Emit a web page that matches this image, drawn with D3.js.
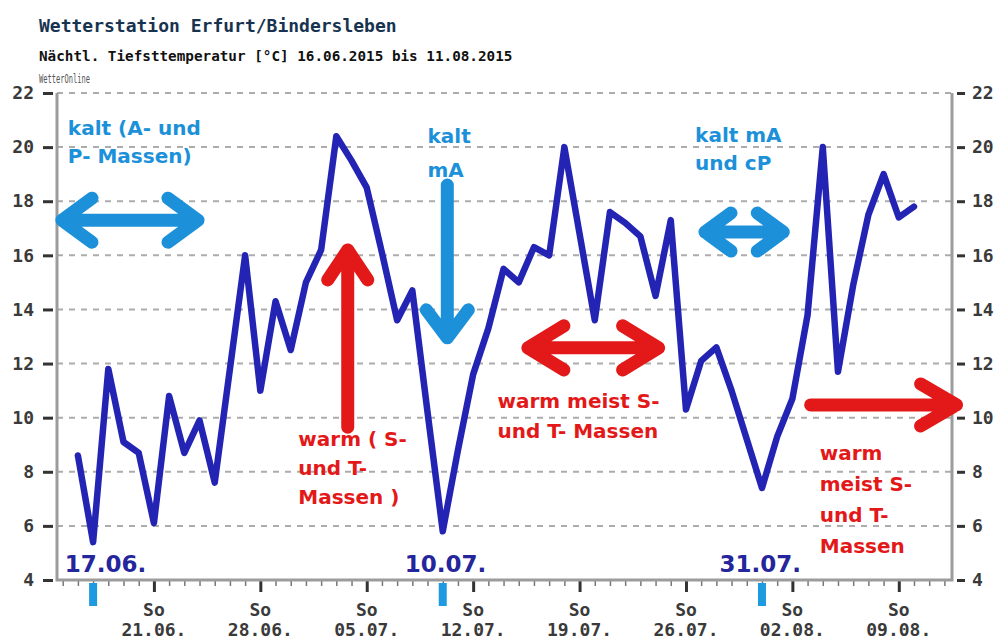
<!DOCTYPE html>
<html>
<head>
<meta charset="utf-8">
<script src="https://cdn.jsdelivr.net/npm/d3@7/dist/d3.min.js"></script>
<style>
body{margin:0;background:#fff;}
</style>
</head>
<body>
<div id="chart"></div>
<script>
// nightly minimum temperature, one value per day starting at startDay
var startDay = "16.06.2015";
var temps = [
  8.6, 5.4, 11.8, 9.1, 8.7, 6.1, 10.8, 8.7, 9.9, 7.6, 11.8, 16.0, 11.0, 14.3, 12.5,
  15.0, 16.2, 20.4, 19.5, 18.5, 16.1, 13.6, 14.7, 10.2, 5.8, 8.8, 11.6, 13.3, 15.5, 15.0,
  16.3, 16.0, 20.0, 16.8, 13.6, 17.6, 17.2, 16.7, 14.5, 17.3, 10.3, 12.1, 12.6, 11.0, 9.2, 7.4,
  9.3, 10.7, 13.8, 20.0, 11.7, 14.9, 17.5, 19.0, 17.4, 17.8
];
var yTicks = [4, 6, 8, 10, 12, 14, 16, 18, 20, 22];
var markDays = ["17.06.2015", "10.07.2015", "31.07.2015"];
var markLabels = ["17.06.", "10.07.", "31.07."];

var title = "Wetterstation Erfurt/Bindersleben";
var subtitle = "Nächtl. Tiefsttemperatur [°C] 16.06.2015 bis 11.08.2015";
var source = "WetterOnline";

var
width = 1000,
height = 639,
pLeft = 57, pRight = 952,
pTop = 93, pBottom = 580,

lineBlue = "#2424b4",
lightBlue = "#1c91d9",
red = "#e31919",
darkBlue = "#25259c"
;

var parse = d3.timeParse("%d.%m.%Y");
var t0 = parse(startDay);
var points = temps.map(function(v, i){ return {date: d3.timeDay.offset(t0, i), value: v}; });

var x = d3.scaleTime()
  .domain([new Date(2015, 5, 14, 15), new Date(2015, 7, 12, 12)])
  .range([pLeft, pRight]);
var y = d3.scaleLinear().domain([4, 22]).range([pBottom, pTop]);

// position given as day offset from startDay and temperature
function at(day, temp){
  return [x(new Date(t0.getTime() + day * 864e5)), y(temp)];
}

var svg = d3.select('#chart').append('svg').attr('width', width).attr('height', height)
  .style('background', '#fff');

// titles
svg.append('text').attr('x', 39).attr('y', 32).text(title)
  .style('font-family', 'DejaVu Sans Mono').style('font-size', '18px')
  .style('fill', '#17334f').style('font-weight', 'bold');
svg.append('text').attr('x', 39).attr('y', 61).text(subtitle)
  .style('font-family', 'DejaVu Sans Mono').style('font-size', '14.3px')
  .style('font-weight', 'bold').style('fill', '#111');
svg.append('text').attr('x', 39).attr('y', 83).text(source)
  .attr('textLength', 51).attr('lengthAdjust', 'spacingAndGlyphs')
  .style('font-family', 'DejaVu Sans Mono').style('font-size', '12px').style('fill', '#555');

// dashed grid
svg.append('g').selectAll('line')
  .data(yTicks.filter(function(t){ return t > 4; }))
  .enter().append('line')
  .attr('x1', pLeft).attr('x2', pRight)
  .attr('y1', function(t){ return y(t); }).attr('y2', function(t){ return y(t); })
  .style('stroke', '#acacac').style('stroke-width', 2).style('stroke-dasharray', '6,6');

// y axes
var tickFont = function(sel){
  sel.selectAll('text').style('font-family', 'DejaVu Sans Mono').style('font-size', '18px')
    .style('font-weight', 'bold').style('fill', '#3a3a3a');
  sel.selectAll('line').style('stroke', '#333').style('stroke-width', 3);
  sel.select('.domain').remove();
};
svg.append('g').attr('transform', 'translate(' + (pLeft - 4) + ',0)')
  .call(d3.axisLeft(y).tickValues(yTicks).tickSize(10).tickPadding(9).tickFormat(d3.format('d')))
  .call(tickFont);
svg.append('g').attr('transform', 'translate(' + (pRight + 5) + ',0)')
  .call(d3.axisRight(y).tickValues(yTicks).tickSize(8).tickPadding(7).tickFormat(d3.format('d')))
  .call(tickFont);

// x axis ticks: days minor, sundays major
var days = d3.timeDay.range(x.domain()[0], x.domain()[1]);
var sundays = d3.timeWeek.range(x.domain()[0], x.domain()[1]);
svg.append('g').attr('transform', 'translate(0,' + pBottom + ')')
  .call(d3.axisBottom(x).tickValues(days).tickSize(6).tickFormat(''))
  .call(function(g){
    g.select('.domain').remove();
    g.selectAll('line').style('stroke', '#777').style('stroke-width', 1.5);
  });
svg.append('g').attr('transform', 'translate(0,' + pBottom + ')')
  .call(d3.axisBottom(x).tickValues(sundays).tickSize(12).tickFormat(''))
  .call(function(g){
    g.select('.domain').remove();
    g.selectAll('line').style('stroke', '#333').style('stroke-width', 3);
  });
var sunLabels = svg.append('g').selectAll('text').data(sundays).enter().append('text')
  .attr('text-anchor', 'middle')
  .style('font-family', 'DejaVu Sans Mono').style('font-size', '18px')
  .style('font-weight', 'bold').style('fill', '#3a3a3a');
sunLabels.append('tspan').attr('x', function(d){ return x(d); }).attr('y', 616).text('So');
sunLabels.append('tspan').attr('x', function(d){ return x(d); }).attr('y', 636)
  .text(d3.timeFormat('%d.%m.'));

// frame
svg.append('path')
  .attr('d', 'M' + pLeft + ',' + pTop + 'V' + pBottom + 'H' + pRight + 'V' + pTop)
  .style('fill', 'none').style('stroke', '#9c9c9c').style('stroke-width', 3);

// highlighted days
svg.append('g').selectAll('rect').data(markDays).enter().append('rect')
  .attr('x', function(d){ return x(parse(d)) - 4; })
  .attr('y', pBottom + 3).attr('width', 8).attr('height', 23)
  .style('fill', '#1e9be0');

var markPos = [-0.86, 21.5, 42.2];
svg.append('g').selectAll('text').data(markLabels).enter().append('text')
  .attr('x', function(d, i){ return at(markPos[i], 0)[0]; })
  .attr('y', y(4.3))
  .text(function(d){ return d; })
  .style('font-family', 'DejaVu Sans').style('font-size', '23px')
  .style('font-weight', 'bold').style('fill', darkBlue);

// temperature line
var line = d3.line()
  .x(function(d){ return x(d.date); })
  .y(function(d){ return y(d.value); });
svg.append('path').datum(points)
  .attr('d', line)
  .style('fill', 'none').style('stroke', lineBlue).style('stroke-width', 6.5)
  .style('stroke-linejoin', 'round').style('stroke-linecap', 'round');

// annotation arrows
function arrow(p0, p1, color, headLen, headHalf, both){
  var dx = p1[0] - p0[0], dy = p1[1] - p0[1], L = Math.sqrt(dx*dx + dy*dy);
  var ux = dx / L, uy = dy / L, nx = -uy, ny = ux;
  function head(t, s){
    return 'M' + (t[0] - s*ux*headLen + nx*headHalf) + ',' + (t[1] - s*uy*headLen + ny*headHalf) +
      'L' + t[0] + ',' + t[1] +
      'L' + (t[0] - s*ux*headLen - nx*headHalf) + ',' + (t[1] - s*uy*headLen - ny*headHalf);
  }
  var d = 'M' + p0[0] + ',' + p0[1] + 'L' + p1[0] + ',' + p1[1] + head(p1, 1);
  if (both) d += head(p0, -1);
  svg.append('path').attr('d', d)
    .style('fill', 'none').style('stroke', color).style('stroke-width', 13)
    .style('stroke-linecap', 'round').style('stroke-linejoin', 'round');
}
arrow(at(-1.05, 17.3), at(7.9, 17.3), lightBlue, 30, 22, true);
arrow(at(24.3, 18.6), at(24.3, 12.95), lightBlue, 28, 21, false);
arrow(at(17.75, 9.65), at(17.75, 16.2), red, 30, 20, false);
arrow(at(29.6, 12.58), at(38.2, 12.58), red, 36, 22, true);
arrow(at(41.25, 16.86), at(46.4, 16.86), lightBlue, 26, 19, true);
arrow(at(48.2, 10.47), at(57.8, 10.47), red, 36, 21, false);

// annotation texts
function note(day, tvals, lines, color){
  svg.append('g').selectAll('text').data(lines).enter().append('text')
    .attr('x', function(d, i){ return at(day, tvals[i])[0]; })
    .attr('y', function(d, i){ return at(day, tvals[i])[1]; })
    .text(function(d){ return d; })
    .style('font-family', 'DejaVu Sans').style('font-size', '20px')
    .style('font-weight', 'bold').style('fill', color);
}
note(-0.66, [20.45, 19.41], ["kalt (A- und", "P- Massen)"], lightBlue);
note(23.0, [20.15, 18.9], ["kalt", "mA"], lightBlue);
note(14.5, [8.95, 7.88, 6.81], ["warm ( S-", "und T-", "Massen )"], red);
note(27.6, [10.36, 9.25], ["warm meist S-", "und T- Massen"], red);
note(40.6, [20.19, 19.15], ["kalt mA", "und cP"], lightBlue);
note(48.8, [8.44, 7.29, 6.15, 5.0], ["warm", "meist S-", "und T-", "Massen"], red);
</script>
</body>
</html>
